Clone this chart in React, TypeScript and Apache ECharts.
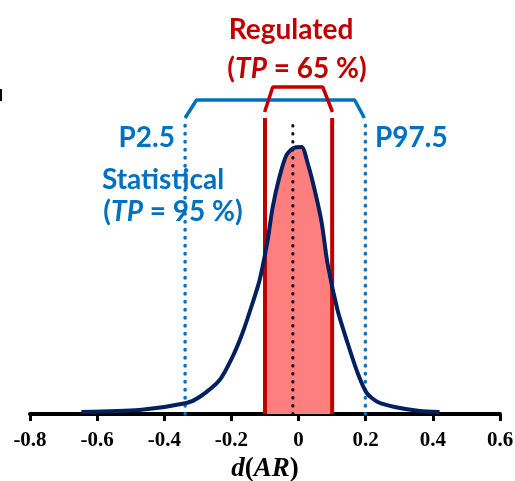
import React, { useEffect, useRef } from "react";
import * as echarts from "echarts";

// Density curve
const curveX = [-0.647, -0.474, -0.334, -0.295, -0.235, -0.197, -0.167, -0.137, -0.116, -0.092, -0.077, -0.057, -0.036, -0.015, 0.009, 0.027, 0.048, 0.069, 0.086, 0.116, 0.146, 0.176, 0.203, 0.236, 0.286, 0.361, 0.42];
const curveY = [0.04, 0.08, 0.22, 0.34, 0.68, 1.14, 1.62, 2.22, 2.68, 3.48, 4.14, 4.74, 5.18, 5.32, 5.34, 5.02, 4.48, 3.82, 3.02, 2.08, 1.42, 0.82, 0.42, 0.24, 0.14, 0.06, 0.04];

// Regulated band (TP = 65 %)
const regulatedX = [-0.1, 0.1];
const regulatedEdgeY = [3.22, 2.54];
const regulatedTop = 5.92;
const regBracketX = [-0.101, -0.077, 0.072, 0.101];
const regBracketY = [6.04, 6.54, 6.54, 6.04];

// Statistical band (P2.5 / P97.5, TP = 95 %)
const statisticalX = [-0.338, 0.199];
const statisticalTop = 5.88;
const statBracketX = [-0.338, -0.304, 0.167, 0.196];
const statBracketY = [5.92, 6.28, 6.28, 5.92];

// Median line
const medianX = -0.017;
const medianTop = 5.84;

const xTicks = ["-0.8", "-0.6", "-0.4", "-0.2", "0", "0.2", "0.4", "0.6"];

const NAVY = "#002060";
const RED = "#C00000";
const FILL = "#FF7F7F";
const BLUE = "#0070C0";
const SANS = "Lato, 'Open Sans', sans-serif";
const SERIF = "'Liberation Serif', 'Times New Roman', serif";
const FS = 28;

export default function App() {
  const ref = useRef<HTMLDivElement>(null);
  useEffect(() => {
    if (!ref.current) return;
    const chart = echarts.init(ref.current, null, { renderer: "svg" });

    const curve = curveX.map((x, i) => [x, curveY[i]]);
    const fill: number[][] = [[regulatedX[0], regulatedEdgeY[0]]];
    curveX.forEach((x, i) => {
      if (x > regulatedX[0] && x < regulatedX[1]) fill.push([x, curveY[i]]);
    });
    fill.push([regulatedX[1], regulatedEdgeY[1]]);

    const vline = (x: number, top: number) => [[x, 0], [x, top]];
    const dotStyle = (color: string, w: number) => ({
      color,
      width: w,
      type: [0.5, 7.5] as any,
      cap: "round" as any,
    });

    const base = {
      type: "line",
      symbol: "none",
      silent: true,
    };

    const textStyleRich = (color: string) => ({
      a: { fontFamily: SANS, fontWeight: "bold", fontSize: FS, fill: color },
      i: { fontFamily: SANS, fontWeight: "bold", fontStyle: "italic", fontSize: FS, fill: color },
    });
    const plain = (text: string, color: string, align: string) => ({
      text, fontFamily: SANS, fontWeight: "bold", fontSize: FS, fill: color, textAlign: align, textVerticalAlign: "middle",
    });

    chart.setOption({
      animation: false,
      grid: { left: 30, right: 15, top: 14, bottom: 67, containLabel: false, outerBoundsMode: "none" },
      xAxis: {
        type: "value",
        min: -0.8,
        max: 0.6,
        interval: 0.2,
        splitLine: { show: false },
        axisLine: { show: true, onZero: false, lineStyle: { color: "#000", width: 4 } },
        axisTick: { show: true, length: 7, lineStyle: { color: "#000", width: 3 } },
        axisLabel: {
          margin: 14,
          fontFamily: SERIF,
          fontWeight: "bold",
          fontSize: 21,
          color: "#000",
          formatter: (v: number) => {
            const idx = Math.round((v + 0.8) / 0.2);
            return xTicks[idx] ?? "";
          },
        },
        name: "{i|d}{n|(}{i|AR}{n|)}",
        nameLocation: "middle",
        nameGap: 35,
        nameTextStyle: {
          lineHeight: 26,
          rich: {
            i: { fontFamily: SERIF, fontWeight: "bold", fontStyle: "italic", fontSize: 27, lineHeight: 26, color: "#000" },
            n: { fontFamily: SERIF, fontWeight: "bold", fontSize: 27, lineHeight: 26, color: "#000" },
          },
        },
      },
      yAxis: { type: "value", min: 0, max: 8, show: false },
      series: [
        { ...base, data: fill, smooth: 0.25, lineStyle: { width: 0 }, areaStyle: { color: FILL, opacity: 1 } },
        { ...base, data: vline(statisticalX[0], statisticalTop), lineStyle: dotStyle(BLUE, 3.5) },
        { ...base, data: vline(statisticalX[1], statisticalTop), lineStyle: dotStyle(BLUE, 3.5) },
        { ...base, data: vline(medianX, medianTop), lineStyle: dotStyle("#000", 3) },
        { ...base, data: vline(regulatedX[0], regulatedTop), lineStyle: { color: RED, width: 4 } },
        { ...base, data: vline(regulatedX[1], regulatedTop), lineStyle: { color: RED, width: 4 } },
        { ...base, data: statBracketX.map((x, i) => [x, statBracketY[i]]), lineStyle: { color: BLUE, width: 3.5 } },
        { ...base, data: regBracketX.map((x, i) => [x, regBracketY[i]]), lineStyle: { color: RED, width: 3.5 } },
        { ...base, data: curve, smooth: 0.25, lineStyle: { color: NAVY, width: 4 } },
      ],
      graphic: [
        { type: "rect", left: 0, top: 89, shape: { width: 2, height: 12 }, style: { fill: "#000" } },
        { type: "text", x: 291, y: 28, style: plain("Regulated", RED, "center") },
        {
          type: "text", x: 297, y: 67,
          style: { text: "{a|(}{i|TP}{a| = 65 %)}", rich: textStyleRich(RED), textAlign: "center", textVerticalAlign: "middle" },
        },
        { type: "text", x: 175, y: 136, style: plain("P2.5", BLUE, "right") },
        { type: "text", x: 375, y: 136, style: plain("P97.5", BLUE, "left") },
        { type: "text", x: 163, y: 178, style: plain("Statistical", BLUE, "center") },
        {
          type: "text", x: 173, y: 210,
          style: { text: "{a|(}{i|TP}{a| = 95 %)}", rich: textStyleRich(BLUE), textAlign: "center", textVerticalAlign: "middle" },
        },
      ],
    });
    return () => chart.dispose();
  }, []);
  return <div ref={ref} style={{ position: "fixed", left: 0, top: 0, width: 515, height: 481 }} />;
}
